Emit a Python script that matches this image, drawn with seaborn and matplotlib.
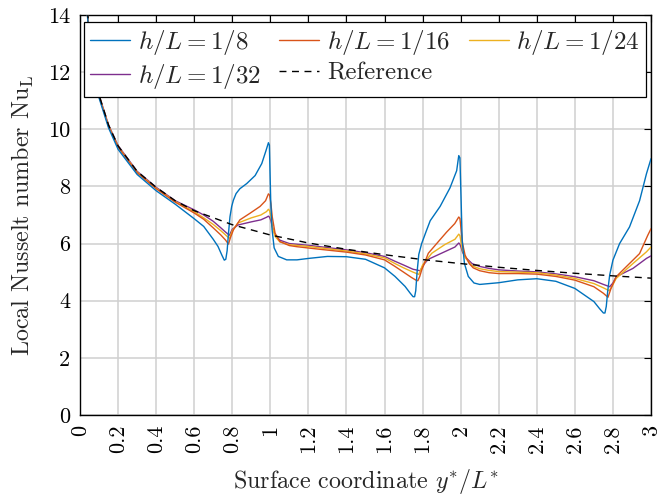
import numpy as np
import pandas as pd
import matplotlib
matplotlib.use("Agg")
import matplotlib.pyplot as plt
import seaborn as sns

# ---------------- data ----------------
x_ref = [0.03, 0.04, 0.05, 0.075, 0.1, 0.15, 0.2, 0.3, 0.4, 0.5, 0.6, 0.8, 1.0,
         1.2, 1.4, 1.6, 1.8, 2.0, 2.2, 2.4, 2.6, 2.8, 3.0]
nu_ref = [15.2, 14.1, 13.3, 12.0, 11.2, 10.15, 9.42, 8.53, 7.97, 7.5, 7.15, 6.66,
          6.30, 6.02, 5.80, 5.61, 5.44, 5.30, 5.17, 5.06, 4.96, 4.87, 4.79]

x_8 = [0.03, 0.04, 0.05, 0.075, 0.1, 0.15, 0.2, 0.3, 0.4, 0.5, 0.6, 0.65, 0.7,
       0.725, 0.745, 0.758, 0.766, 0.773, 0.78, 0.788, 0.797, 0.806, 0.82, 0.84,
       0.876, 0.92, 0.955, 0.977, 0.99, 0.995, 1.002, 1.009, 1.02, 1.042, 1.086,
       1.14, 1.2, 1.3, 1.4, 1.5, 1.6, 1.655, 1.708, 1.734, 1.75, 1.758, 1.764,
       1.771, 1.78, 1.795, 1.82, 1.84, 1.892, 1.944, 1.979, 1.99, 1.996, 2.002,
       2.008, 2.02, 2.04, 2.07, 2.1, 2.2, 2.3, 2.4, 2.5, 2.6, 2.7, 2.73, 2.75,
       2.758, 2.765, 2.772, 2.783, 2.8, 2.835, 2.887, 2.94, 2.976, 3.0]
nu_8 = [15.0, 13.9, 13.15, 11.9, 11.1, 10.05, 9.3, 8.42, 7.85, 7.38, 6.87, 6.6,
        6.15, 5.9, 5.6, 5.42, 5.45, 5.75, 6.35, 6.94, 7.3, 7.52, 7.75, 7.92,
        8.1, 8.38, 8.8, 9.25, 9.53, 9.45, 7.5, 6.5, 5.85, 5.55, 5.43,
        5.43, 5.48, 5.55, 5.54, 5.45, 5.15, 4.85, 4.5, 4.27, 4.14, 4.14, 4.35,
        5.0, 5.62, 6.0, 6.45, 6.8, 7.3, 7.95, 8.55, 9.08, 9.0, 7.6,
        6.1, 5.3, 4.85, 4.62, 4.57, 4.63, 4.73, 4.77, 4.68, 4.43, 3.97, 3.72, 3.57,
        3.57, 3.8, 4.3, 4.9, 5.42, 6.0, 6.58, 7.5, 8.44, 8.97]

x_16 = [0.03, 0.04, 0.05, 0.075, 0.1, 0.15, 0.2, 0.3, 0.4, 0.5, 0.6, 0.65, 0.7,
        0.74, 0.765, 0.78, 0.79, 0.806, 0.84, 0.893, 0.946, 0.975, 0.99, 0.996,
        1.003, 1.01, 1.025, 1.05, 1.1, 1.14, 1.26, 1.4, 1.5, 1.6, 1.655, 1.7,
        1.74, 1.765, 1.775, 1.785, 1.795, 1.83, 1.883, 1.926, 1.969, 1.99,
        1.996, 2.003, 2.01, 2.023, 2.045, 2.066, 2.1, 2.15, 2.2, 2.3, 2.4, 2.5,
        2.6, 2.7, 2.75, 2.774, 2.79, 2.817, 2.87, 2.94, 2.983, 3.0]
nu_16 = [15.0, 13.95, 13.2, 11.95, 11.15, 10.1, 9.38, 8.48, 7.92, 7.45, 7.07,
         6.85, 6.55, 6.3, 6.12, 5.98, 6.2, 6.48, 6.83, 7.06, 7.3, 7.5, 7.74,
         7.7, 7.4, 6.94, 6.36, 6.07, 5.93, 5.89, 5.8, 5.7, 5.6, 5.43, 5.2,
         5.0, 4.82, 4.72, 4.7, 4.85, 5.07, 5.66, 6.07, 6.4, 6.7, 6.93,
         6.88, 6.45, 6.0, 5.6, 5.3, 5.15, 5.05, 4.98, 4.95, 4.95, 4.93, 4.85,
         4.72, 4.49, 4.26, 4.12, 4.43, 4.84, 5.19, 5.65, 6.29, 6.52]

x_24 = [0.03, 0.04, 0.05, 0.075, 0.1, 0.15, 0.2, 0.3, 0.4, 0.5, 0.6, 0.65, 0.7,
        0.74, 0.765, 0.785, 0.8, 0.83, 0.9, 0.95, 0.98, 0.99, 0.996, 1.003,
        1.01, 1.025, 1.05, 1.1, 1.2, 1.4, 1.5, 1.6, 1.655, 1.7, 1.75, 1.78,
        1.8, 1.848, 1.918, 1.97, 1.99, 1.996, 2.003, 2.01, 2.025, 2.06, 2.1,
        2.15, 2.2, 2.3, 2.4, 2.5, 2.6, 2.7, 2.75, 2.78, 2.795, 2.817, 2.905,
        2.976, 3.0]
nu_24 = [15.0, 13.97, 13.22, 11.97, 11.17, 10.12, 9.4, 8.5, 7.94, 7.47, 7.12,
         6.9, 6.67, 6.45, 6.3, 6.18, 6.45, 6.72, 6.9, 7.0, 7.12, 7.2, 7.15,
         6.95, 6.6, 6.25, 6.06, 5.96, 5.9, 5.74, 5.64, 5.5, 5.3, 5.15, 5.0,
         4.92, 5.25, 5.66, 5.97, 6.15, 6.33, 6.28, 6.0, 5.75, 5.5, 5.22, 5.12,
         5.06, 5.02, 5.0, 4.98, 4.9, 4.78, 4.6, 4.45, 4.35, 4.5, 4.78, 5.3,
         5.71, 5.88]

x_32 = [0.03, 0.04, 0.05, 0.075, 0.1, 0.15, 0.2, 0.3, 0.4, 0.5, 0.6, 0.65, 0.7,
        0.74, 0.765, 0.785, 0.8, 0.83, 0.9, 0.95, 0.98, 0.99, 0.996, 1.003,
        1.01, 1.025, 1.05, 1.1, 1.2, 1.4, 1.5, 1.6, 1.655, 1.7, 1.75, 1.787,
        1.81, 1.83, 1.918, 1.97, 1.99, 1.996, 2.003, 2.01, 2.025, 2.06, 2.1,
        2.15, 2.2, 2.3, 2.4, 2.5, 2.6, 2.7, 2.75, 2.783, 2.8, 2.817, 2.905,
        2.976, 3.0]
nu_32 = [15.0, 13.99, 13.25, 12.0, 11.2, 10.15, 9.43, 8.53, 7.97, 7.5, 7.18,
         7.0, 6.78, 6.55, 6.4, 6.29, 6.5, 6.65, 6.76, 6.83, 6.92, 6.96, 6.92,
         6.8, 6.6, 6.3, 6.12, 6.0, 5.94, 5.78, 5.68, 5.55, 5.38, 5.25, 5.1,
         5.05, 5.3, 5.45, 5.72, 5.88, 6.02, 5.98, 5.85, 5.7, 5.52, 5.3, 5.2,
         5.13, 5.08, 5.04, 5.01, 4.94, 4.84, 4.7, 4.57, 4.49, 4.62, 4.84, 5.13,
         5.48, 5.57]

series_labels = [r"$h/L=1/8$", r"$h/L=1/16$", r"$h/L=1/24$", r"$h/L=1/32$", "Reference"]
series_colors = ["#0072BD", "#D95319", "#EDB120", "#7E2F8E", "black"]

x_ticks = [0, 0.2, 0.4, 0.6, 0.8, 1.0, 1.2, 1.4, 1.6, 1.8, 2.0, 2.2, 2.4, 2.6, 2.8, 3.0]
x_tick_labels = ["0", "0.2", "0.4", "0.6", "0.8", "1", "1.2", "1.4", "1.6", "1.8",
                 "2", "2.2", "2.4", "2.6", "2.8", "3"]
y_ticks = [0, 2, 4, 6, 8, 10, 12, 14]

# ---------------- plotting ----------------
sns.set_style("white")
plt.rcParams["font.family"] = ["cmr10", "DejaVu Serif"]
plt.rcParams["mathtext.fontset"] = "cm"
plt.rcParams["axes.formatter.use_mathtext"] = True

fig = plt.figure(figsize=(6.58, 5.0), dpi=100)
ax = fig.add_axes([80 / 658, 85 / 500, 571 / 658, 400 / 500])

xs = [x_8, x_16, x_24, x_32, x_ref]
ys = [nu_8, nu_16, nu_24, nu_32, nu_ref]
for i, (xv, yv) in enumerate(zip(xs, ys)):
    df = pd.DataFrame({"x": xv, "y": yv})
    ls = (0, (5, 4)) if series_labels[i] == "Reference" else "-"
    sns.lineplot(data=df, x="x", y="y", ax=ax, color=series_colors[i], lw=1.0,
                 linestyle=ls, sort=False, estimator=None, label=series_labels[i],
                 zorder=3 + (5 - i) * 0.1 if i < 4 else 4)

ax.set_xlim(0, 3)
ax.set_ylim(0, 14)
ax.set_xticks(x_ticks)
ax.set_xticklabels(x_tick_labels, rotation=90)
ax.set_yticks(y_ticks)
ax.set_yticklabels([str(v) for v in y_ticks])
ax.grid(True, color="#d0d0d0", lw=1.1, zorder=0)
ax.set_axisbelow(True)
for s in ax.spines.values():
    s.set_color("black")
    s.set_linewidth(1.0)
ax.tick_params(direction="in", length=5, width=0.8, top=True, right=True,
               labelsize=16, colors="black", pad=7)

ax.set_xlabel(r"Surface coordinate $y^{*}/L^{*}$", fontsize=17.3, labelpad=10)
ax.set_ylabel(r"Local Nusselt number $\mathrm{Nu}_\mathrm{L}$", fontsize=17.3, labelpad=9)

h, l = ax.get_legend_handles_labels()
order = [0, 3, 1, 4, 2]
leg = ax.legend([h[k] for k in order], [l[k] for k in order], ncol=3,
                loc="upper left", bbox_to_anchor=(4 / 571, 1 - 7 / 400),
                borderaxespad=0, fontsize=18,
                frameon=True, fancybox=False, edgecolor="black", framealpha=1,
                handlelength=1.6, columnspacing=0.75, handletextpad=0.3,
                borderpad=0.25, labelspacing=0.2)
leg.get_frame().set_linewidth(0.9)

fig.savefig("out.png", dpi=100)
